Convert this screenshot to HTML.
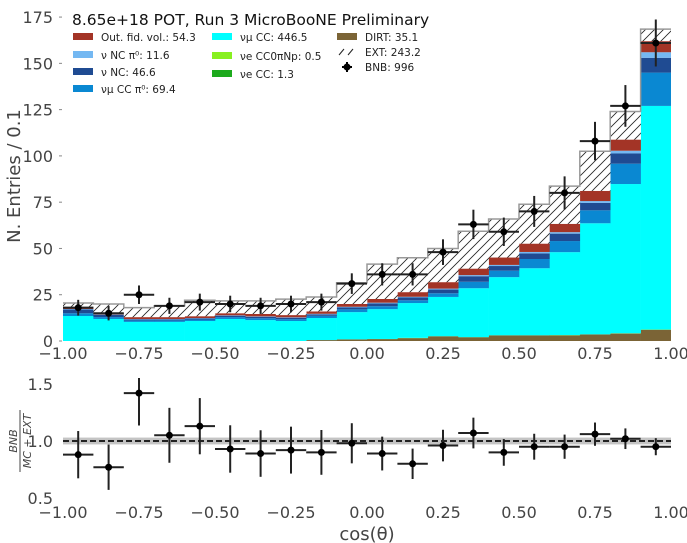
<!DOCTYPE html>
<html><head><meta charset="utf-8">
<style>
html,body{margin:0;padding:0;background:#fff;}
svg{display:block;font-family:"DejaVu Sans","Liberation Sans",sans-serif;}
</style></head>
<body>
<svg id="chart" width="687" height="543" viewBox="0 0 687 543" xmlns="http://www.w3.org/2000/svg">
<defs>
<pattern id="hatch" patternUnits="userSpaceOnUse" width="9" height="9" patternTransform="rotate(0)">
<rect width="9" height="9" fill="#fff"/>
<path d="M0,9 L9,0 M-2,2 L2,-2 M7,11 L11,7" stroke="#222" stroke-width="0.8"/>
</pattern>
<clipPath id="ratioClip"><rect x="63" y="378" width="608" height="122"/></clipPath>
<clipPath id="mainClip"><rect x="63" y="5" width="608" height="337"/></clipPath>
</defs>
<g id="main"></g>
<g id="ratio"></g>
<g id="legend"></g>
</svg>
<script>
const binEdges = [-1,-0.9,-0.8,-0.7,-0.6,-0.5,-0.4,-0.3,-0.2,-0.1,0,0.1,0.2,0.3,0.4,0.5,0.6,0.7,0.8,0.9,1.0];
const dirt   = [0,0,0,0,0,0,0,0,0.5,0.8,1,1.5,2.5,2,3,3,3,3.5,4,6];
const nueCC  = [0,0,0,0,0,0,0,0,0,0.1,0.1,0.1,0.1,0.1,0.1,0.1,0.1,0.1,0.1,0.1];
const nueCC0 = [0,0,0,0,0,0,0,0,0,0,0,0.1,0,0,0,0,0.1,0,0.1,0.1];
const numuCC = [13.5,11.9,10.3,10.3,10.8,11.9,11.3,10.8,11.9,14.7,16.1,18.8,21.2,26.4,31.4,36.2,44.8,60,80.6,120.8];
const numuCCpi0 = [1.5,1,0.8,0.8,0.8,1,1,1,1.2,1.5,1.6,1.5,2,3.5,3.5,5,6,7,11,18];
const ncArr  = [2,1.2,0.6,0.6,0.6,0.8,0.8,0.8,0.8,1,1.5,1.5,2,3,2.5,3,4,4,5.5,8];
const ncPi0  = [0.3,0.2,0.2,0.2,0.2,0.2,0.2,0.2,0.3,0.4,0.4,0.4,0.5,0.6,0.6,0.8,0.8,1,1.5,3];
const outFid = [1,0.7,1,1,1,1.1,1.3,1.2,1.3,1.5,2,2.5,3.5,3.5,4,4.5,4.5,5.5,6,6];
const ext    = [2.2,5,5.1,6.1,8.6,6.7,7.1,8.6,7.8,11.5,18.8,18.6,18.2,20.2,20.8,21.3,20.4,21.4,15.2,6.5];
const bnb    = [18,15,25,19,21,20,19,20,21,31,36,36,48,63,59,70,80,108,127,161];
const ratioVals = [0.88,0.77,1.42,1.05,1.13,0.93,0.89,0.92,0.90,0.98,0.89,0.80,0.96,1.07,0.90,0.95,0.95,1.06,1.02,0.95];
const yTicks = [0,25,50,75,100,125,150,175];
const xTicks = [-1,-0.75,-0.5,-0.25,0,0.25,0.5,0.75,1];
const rTicks = [0.5,1.0,1.5];

const NS="http://www.w3.org/2000/svg";
const X0=63,X1=671;
function xs(v){return X0+(v+1)/2*(X1-X0);}
function ys(v){return 341-v*1.851;}
function yr(v){return 441-(v-1)*114;}
function mk(tag,attrs,parent){const e=document.createElementNS(NS,tag);for(const k in attrs)e.setAttribute(k,attrs[k]);parent.appendChild(e);return e;}
const main=document.getElementById('main'), ratio=document.getElementById('ratio'), legend=document.getElementById('legend');

const layers=[
 {d:dirt,c:'#7b6436',n:'dirt'},
 {d:nueCC,c:'#1daa1d',n:'nue-cc'},
 {d:nueCC0,c:'#88f020',n:'nue-cc0pinp'},
 {d:numuCC,c:'#00ffff',n:'numu-cc'},
 {d:numuCCpi0,c:'#0a88d2',n:'numu-cc-pi0'},
 {d:ncArr,c:'#1f4b92',n:'nu-nc'},
 {d:ncPi0,c:'#74b8f2',n:'nu-nc-pi0'},
 {d:outFid,c:'#a33426',n:'out-fid-vol'},
 {d:ext,c:'url(#hatch)',n:'ext'}
];
const cum=new Array(20).fill(0);
const gBars=mk('g',{'clip-path':'url(#mainClip)'},main);
layers.forEach(L=>{
 for(let i=0;i<20;i++){
  const lo=cum[i],hi=cum[i]+L.d[i];
  if(L.d[i]>0){
   const r=mk('rect',{x:xs(binEdges[i]),y:ys(hi),width:xs(binEdges[i+1])-xs(binEdges[i])+0.3,height:ys(lo)-ys(hi),fill:L.c},gBars);
   
   
  }
  cum[i]=hi;
 }
});
let p='';
for(let i=0;i<20;i++){p+=(i?'L':'M')+xs(binEdges[i])+','+ys(cum[i])+'L'+xs(binEdges[i+1])+','+ys(cum[i]);}
const outl=mk('path',{d:p,fill:'none',stroke:'#999',"stroke-width":1.5},gBars);


for(let i=0;i<20;i++){
 const cx=(xs(binEdges[i])+xs(binEdges[i+1]))/2, e=Math.sqrt(bnb[i]);
 const g=mk('g',{},main);
 
 
 mk('line',{x1:xs(binEdges[i]),x2:xs(binEdges[i+1]),y1:ys(bnb[i]),y2:ys(bnb[i]),stroke:'#222','stroke-width':2},g);
 mk('line',{x1:cx,x2:cx,y1:ys(bnb[i]-e),y2:ys(bnb[i]+e),stroke:'#222','stroke-width':2},g);
 mk('circle',{cx:cx,cy:ys(bnb[i]),r:3.5,fill:'#000'},g);
}
function txt(x,y,s,anchor,size,parent,name){const t=mk('text',{x:x,y:y,'text-anchor':anchor,'font-size':size,fill:'#444'},parent);t.textContent=s;return t;}
yTicks.forEach(v=>{txt(53,ys(v)+6,String(v),'end',16,main,'y-tick-label');mk('line',{x1:59,x2:62,y1:ys(v),y2:ys(v),stroke:'#888'},main);});
function fmt(v){return (v<0?'\u2212':'')+Math.abs(v).toFixed(2);}
xTicks.forEach(v=>{txt(xs(v),359,fmt(v),'middle',16,main,'x-tick-label');txt(xs(v),518,fmt(v),'middle',16,ratio,'ratio-x-tick-label');});
rTicks.forEach(v=>{txt(53,yr(v)+6,v.toFixed(1),'end',16,ratio,'ratio-y-tick-label');});
const yl=txt(0,0,'N. Entries  /  0.1','middle',18,main,'y-axis-title');yl.setAttribute('transform','translate(20,176) rotate(-90)');yl.setAttribute('xml:space','preserve');
txt(367,540,'cos(\u03b8)','middle',18,main,'x-axis-title');
const rl=mk('g',{transform:'translate(20,441) rotate(-90)'},ratio);


const t1=mk('text',{x:0,y:-3,'text-anchor':'middle','font-size':11,'font-style':'italic',fill:'#444'},rl);t1.textContent='BNB';
mk('line',{x1:-31,x2:31,y1:0,y2:0,stroke:'#444'},rl);
const t2=mk('text',{x:0,y:11,'text-anchor':'middle','font-size':11,'font-style':'italic',fill:'#444'},rl);t2.textContent='MC + EXT';
const band=mk('rect',{x:X0,y:yr(1.03),width:X1-X0,height:yr(0.97)-yr(1.03),fill:'#c4c4c4'},ratio);


const dl=mk('line',{x1:X0,x2:X1,y1:yr(1),y2:yr(1),stroke:'#222','stroke-width':2,'stroke-dasharray':'6,3'},ratio);


const gr=mk('g',{'clip-path':'url(#ratioClip)'},ratio);
for(let i=0;i<20;i++){
 const cx=(xs(binEdges[i])+xs(binEdges[i+1]))/2, e=ratioVals[i]/Math.sqrt(bnb[i]);
 const g=mk('g',{},gr);
 
 
 mk('line',{x1:xs(binEdges[i]),x2:xs(binEdges[i+1]),y1:yr(ratioVals[i]),y2:yr(ratioVals[i]),stroke:'#222','stroke-width':2},g);
 mk('line',{x1:cx,x2:cx,y1:yr(ratioVals[i]-e),y2:yr(ratioVals[i]+e),stroke:'#222','stroke-width':2},g);
 mk('circle',{cx:cx,cy:yr(ratioVals[i]),r:3.5,fill:'#000'},g);
}
const title=mk('text',{x:72,y:25,'font-size':15.5,fill:'#111'},legend);title.textContent='8.65e+18 POT, Run 3 MicroBooNE Preliminary';


const legItems=[
 [73,38,'#a33426','Out. fid. vol.: 54.3','sw'],[73,56,'#74b8f2','\u03bd NC \u03c0\u2070: 11.6','sw'],[73,73,'#1f4b92','\u03bd NC: 46.6','sw'],[73,90,'#0a88d2','\u03bd\u03bc CC \u03c0\u2070: 69.4','sw'],
 [212,38,'#00ffff','\u03bd\u03bc CC: 446.5','sw'],[212,57,'#88f020','\u03bde CC0\u03c0Np: 0.5','sw'],[212,75,'#1daa1d','\u03bde CC: 1.3','sw'],
 [337,38,'#7b6436','DIRT: 35.1','sw'],[337,53,null,'EXT: 243.2','hatch'],[337,68,null,'BNB: 996','pt']
];
legItems.forEach(it=>{
 const [x,y,c,label,kind]=it;
 const g=mk('g',{},legend);
 
 
 if(kind==='sw') mk('rect',{x:x,y:y-5,width:20,height:7,fill:c},g);
 else if(kind==='hatch'){mk('line',{x1:x+2,y1:y+2,x2:x+7,y2:y-4,stroke:'#222'},g);mk('line',{x1:x+11,y1:y+2,x2:x+16,y2:y-4,stroke:'#222'},g);}
 else {mk('circle',{cx:x+10,cy:y-1,r:3.5,fill:'#000'},g);mk('line',{x1:x+10,x2:x+10,y1:y-6,y2:y+4,stroke:'#000','stroke-width':2},g);mk('line',{x1:x+5,x2:x+15,y1:y-1,y2:y-1,stroke:'#000','stroke-width':2},g);}
 const t=mk('text',{x:x+28,y:y+3,'font-size':10.5,fill:'#222'},g);t.textContent=label;
});
</script>
</body></html>
